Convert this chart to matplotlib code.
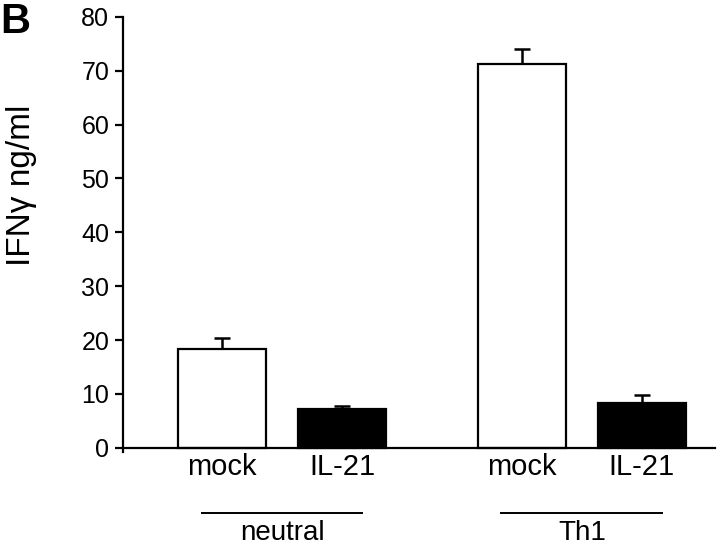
import matplotlib
matplotlib.use("Agg")
import matplotlib.pyplot as plt
import matplotlib.transforms as mtransforms

plt.rcParams['font.family'] = ['Liberation Sans', 'DejaVu Sans']

# data
groups = ["neutral", "Th1"]
labels = ["mock", "IL-21", "mock", "IL-21"]
values = [18.4, 7.2, 71.2, 8.3]
errors = [2.0, 0.6, 2.8, 1.5]
colors = ["white", "black", "white", "black"]
positions = [1, 2, 3.5, 4.5]
group_centers = [1.5, 4.0]

fig = plt.figure(figsize=(7.2, 5.46), dpi=100)
ax = fig.add_axes([0.171, 0.172, 0.822, 0.797])

ax.bar(positions, values, width=0.73, color=colors, edgecolor="black",
       linewidth=1.6, zorder=2)
ax.errorbar(positions, values, yerr=[[0] * 4, errors], fmt="none",
            ecolor="black", elinewidth=1.8, capsize=6, capthick=1.8, zorder=1)

ax.set_xlim(0.175, 5.11)
ax.set_ylim(-0.8, 80)
ax.set_yticks(range(0, 81, 10))
ax.set_xticks(positions)
ax.set_xticklabels(labels)

for s in ["top", "right"]:
    ax.spines[s].set_visible(False)
ax.spines["bottom"].set_position(("data", 0))
ax.spines["bottom"].set_linewidth(1.6)
ax.spines["left"].set_linewidth(1.6)
ax.tick_params(axis="y", direction="out", length=6, width=1.6, labelsize=18, pad=4)
ax.tick_params(axis="x", length=0, pad=4, labelsize=21)

# y label placed by hand
fig.text(22 / 720, 1 - 185 / 546, "IFN\u03b3 ng/ml", rotation=90, fontsize=24,
         ha="center", va="center")

# group lines
tr = mtransforms.blended_transform_factory(ax.transData, ax.transAxes)
for c, g in zip(group_centers, groups):
    ax.plot([c - 0.67, c + 0.67], [-0.139, -0.139], color="black", lw=1.4,
            transform=tr, clip_on=False)
    ax.text(c, -0.201, g, transform=tr, ha="center", va="baseline", fontsize=20)

fig.text(0.0, 0.997, "B", fontsize=30, fontweight="bold", ha="left", va="top")

fig.savefig("out.png", dpi=100)
